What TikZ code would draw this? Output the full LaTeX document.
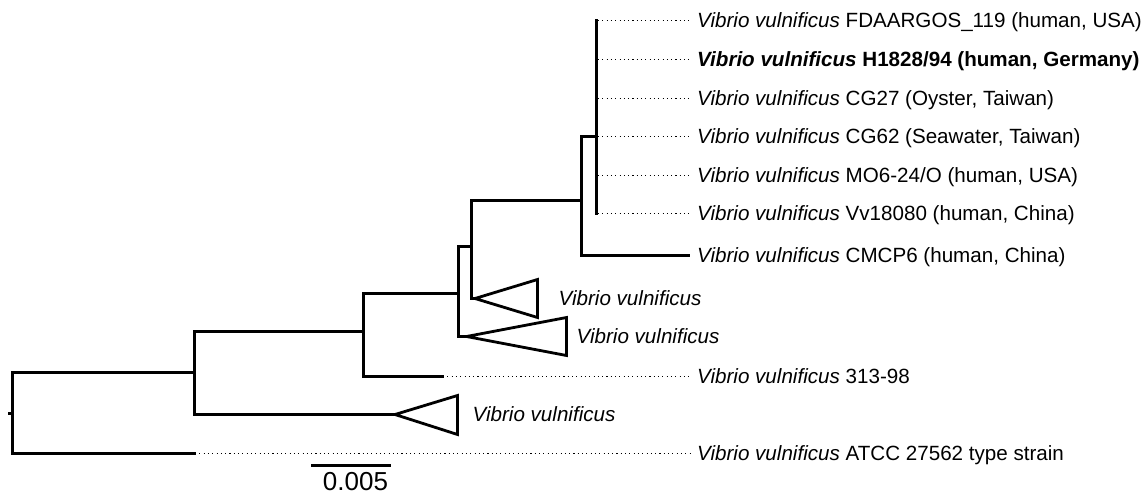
\documentclass[tikz,border=0pt]{standalone}
\usepackage{fontspec}
\setmainfont{Liberation Sans}
\begin{document}
\begin{tikzpicture}[x=1pt,y=-1pt,
  br/.style={line width=2.8pt, line join=miter, line cap=rect},
  dots/.style={line width=1.1pt, dash pattern=on 1.1pt off 3.2pt},
  lab/.style={anchor=base west, inner sep=0pt, font=\fontsize{20.6}{24}\selectfont},
  scl/.style={anchor=base, inner sep=0pt, font=\fontsize{26}{30}\selectfont}]
\useasboundingbox (0,0) rectangle (1145,495);

% internal nodes
\coordinate (R) at (12.5,413.5);
\coordinate (G) at (194.5,372.5);
\coordinate (H) at (363.5,331.5);
\coordinate (C) at (458.5,293.5);
\coordinate (D) at (471.5,246.5);
\coordinate (E) at (581.5,200.5);
\coordinate (F) at (596.5,136.5);

% leaves of F
\coordinate (f1) at (598,20.5);    \coordinate (f1e) at (690,20.5);
\coordinate (f2) at (598,59.5);    \coordinate (f2e) at (690,59.5);
\coordinate (f3) at (598,98.5);    \coordinate (f3e) at (690,98.5);
\coordinate (f4) at (598,136.5);   \coordinate (f4e) at (690,136.5);
\coordinate (f5) at (598,175.5);   \coordinate (f5e) at (690,175.5);
\coordinate (f6) at (598,213.5);   \coordinate (f6e) at (690,213.5);
\coordinate (cm) at (689,255.5);
\coordinate (l313) at (443,376.5); \coordinate (l313e) at (690,376.5);
\coordinate (atcc) at (195,453.5);     \coordinate (atcce) at (690,453.5);

% collapsed clades
\coordinate (t1) at (475,298.5);   \coordinate (t1a) at (537.5,279.5); \coordinate (t1b) at (537.5,317.5);
\coordinate (t2) at (466.5,336.5); \coordinate (t2a) at (566.5,317.5); \coordinate (t2b) at (566.5,355.5);
\coordinate (t3) at (395,414.5);   \coordinate (t3a) at (457.5,395.5); \coordinate (t3b) at (457.5,434.5);

% branches
\draw[br] (R) -- ++(-3,0);
\draw[br] (R) |- (G);
\draw[br] (R) |- (atcc);
\draw[br] (G) |- (H);
\draw[br] (G) |- (t3);
\draw[br] (H) |- (C);
\draw[br] (H) |- (l313);
\draw[br] (C) |- (D);
\draw[br] (C) |- (t2);
\draw[br] (D) |- (E);
\draw[br] (D) |- (t1);
\draw[br] (E) |- (F);
\draw[br] (E) |- (cm);
\draw[br] (F |- f1) -- (F |- f6);

\draw[br, line cap=butt] (t1) -- (t1a) -- (t1b) -- cycle;
\draw[br, line cap=butt] (t2) -- (t2a) -- (t2b) -- cycle;
\draw[br, line cap=butt] (t3) -- (t3a) -- (t3b) -- cycle;

% dotted leaf extensions
\draw[dots] (f1) -- (f1e);
\draw[dots] (f2) -- (f2e);
\draw[dots] (f3) -- (f3e);
\draw[dots] (f4) -- (f4e);
\draw[dots] (f5) -- (f5e);
\draw[dots] (f6) -- (f6e);
\draw[dots] (l313) -- (l313e);
\draw[dots] (atcc) -- (atcce);

% labels
\node[lab] (n1) at ([shift={(7pt,-7.3pt)}]f1e) {\textit{Vibrio vulnificus} FDAARGOS\_119 (human, USA)};
\node[lab] (n2) at ([shift={(7pt,-7.3pt)}]f2e) {\textbf{\textit{Vibrio vulnificus} H1828/94 (human, Germany)}};
\node[lab] (n3) at ([shift={(7pt,-7.3pt)}]f3e) {\textit{Vibrio vulnificus} CG27 (Oyster, Taiwan)};
\node[lab] (n4) at ([shift={(7pt,-7.3pt)}]f4e) {\textit{Vibrio vulnificus} CG62 (Seawater, Taiwan)};
\node[lab] (n5) at ([shift={(7pt,-7.3pt)}]f5e) {\textit{Vibrio vulnificus} MO6-24/O (human, USA)};
\node[lab] (n6) at ([shift={(7pt,-7.3pt)}]f6e) {\textit{Vibrio vulnificus} Vv18080 (human, China)};
\node[lab] (n7) at ([shift={(8pt,-7.3pt)}]cm) {\textit{Vibrio vulnificus} CMCP6 (human, China)};
\node[lab] (n8) at ([shift={(21pt,-7.3pt)}]t1a |- t1) {\textit{Vibrio vulnificus}};
\node[lab] (n9) at ([shift={(10pt,-7.3pt)}]t2a |- t2) {\textit{Vibrio vulnificus}};
\node[lab] (n10) at ([shift={(7pt,-7.3pt)}]l313e) {\textit{Vibrio vulnificus} 313-98};
\node[lab] (n11) at ([shift={(15pt,-7.3pt)}]t3a |- t3) {\textit{Vibrio vulnificus}};
\node[lab] (n12) at ([shift={(7pt,-7.3pt)}]atcce) {\textit{Vibrio vulnificus} ATCC 27562 type strain};

% scale bar
\coordinate (s1) at (311,465.5);
\coordinate (s2) at (391,465.5);
\draw[br, line cap=butt] (s1) -- (s2);
\node[scl] (sl) at (355.5,490) {0.005};
\end{tikzpicture}
\end{document}
